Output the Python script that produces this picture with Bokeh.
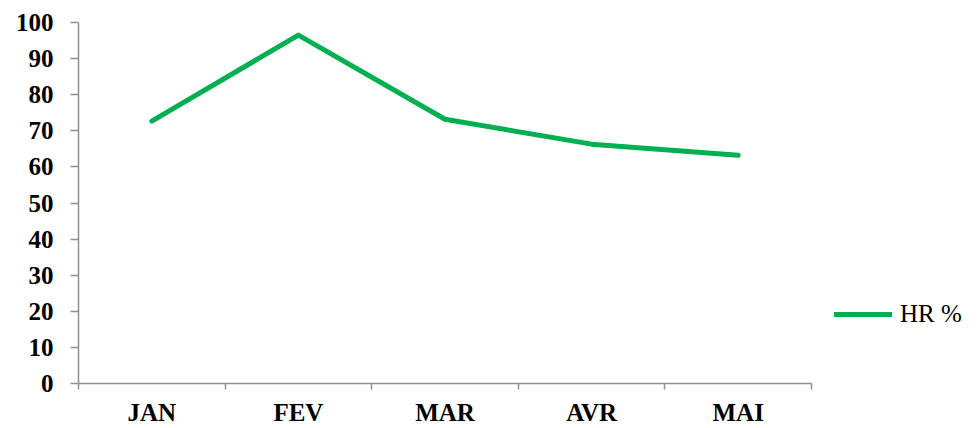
from bokeh.plotting import figure
from bokeh.models import Range1d, FixedTicker, Legend, ColumnDataSource
from bokeh.embed import file_html
from bokeh.resources import INLINE

# Monthly relative humidity
months = ["JAN", "FEV", "MAR", "AVR", "MAI"]
hr_values = [72.7, 96.5, 73.2, 66.3, 63.2]
y_ticks = [0, 10, 20, 30, 40, 50, 60, 70, 80, 90, 100]

# months sit at the centre of each category slot (0.5, 1.5, ...)
n = len(months)
x_pos = [i + 0.5 for i in range(n)]
src = ColumnDataSource(dict(x=x_pos, y=hr_values))

# the frame runs to the right edge so the legend can sit beside the axis;
# the axis line itself is bounded to the five month slots
slot_px = 146.6
frame_w = 979 - 78
p = figure(width=979, height=428, output_backend="svg", toolbar_location=None,
           x_range=Range1d(0, frame_w / slot_px), y_range=Range1d(0, 100),
           min_border_left=78, min_border_right=0, min_border_top=22,
           min_border_bottom=0)

r = p.line("x", "y", source=src, line_color="#00B050", line_width=5,
           line_cap="round", line_join="round")

axis_color = "#8f8f8f"
font = "Liberation Serif"

p.xgrid.visible = False
p.ygrid.visible = False
p.outline_line_color = None

# x axis: labels centred in slots, tick marks at slot boundaries
xa = p.xaxis[0]
xa.bounds = (0, n)
xa.ticker = FixedTicker(ticks=x_pos, minor_ticks=list(range(n + 1)))
xa.major_label_overrides = {x: m for x, m in zip(x_pos, months)}
xa.major_tick_out = 0
xa.major_tick_in = 0
xa.minor_tick_out = 6
xa.minor_tick_in = 0
xa.minor_tick_line_color = axis_color
xa.minor_tick_line_width = 1.5
xa.axis_line_color = axis_color
xa.axis_line_width = 1.5
xa.major_label_standoff = 9
xa.major_label_text_font = font
xa.major_label_text_font_style = "bold"
xa.major_label_text_font_size = "25px"
xa.major_label_text_color = "black"

ya = p.yaxis[0]
ya.ticker = FixedTicker(ticks=y_ticks, minor_ticks=[])
ya.major_tick_out = 8
ya.major_tick_in = 0
ya.major_tick_line_color = axis_color
ya.major_tick_line_width = 1.5
ya.axis_line_color = axis_color
ya.axis_line_width = 1.5
ya.major_label_standoff = 17
ya.major_label_text_font = font
ya.major_label_text_font_style = "bold"
ya.major_label_text_font_size = "25px"
ya.major_label_text_color = "black"

legend = Legend(items=[("HR %", [r])], location=(834 - 78, 55),
                label_text_font=font, label_text_font_size="25px",
                label_text_color="black", glyph_width=58, glyph_height=20,
                label_standoff=8, border_line_color=None,
                background_fill_alpha=0, padding=0, margin=0, spacing=0)
p.add_layout(legend)

open("out.html", "w").write(file_html(p, INLINE))
